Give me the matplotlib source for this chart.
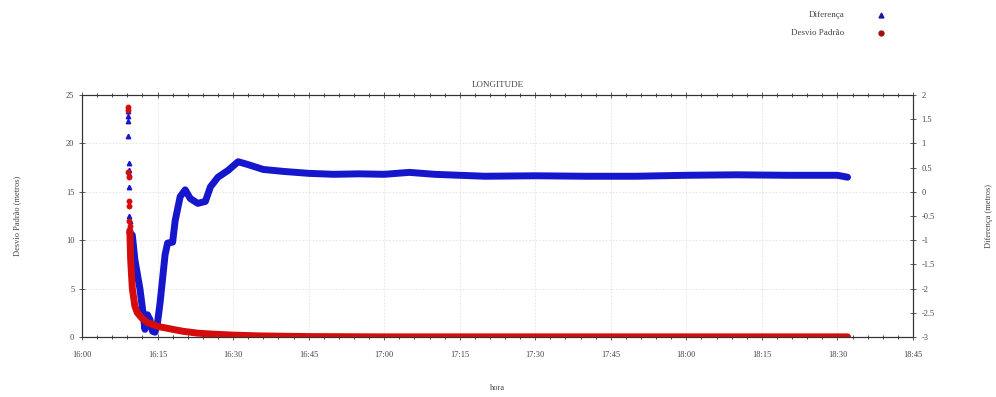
import pandas as pd
import matplotlib
matplotlib.use("Agg")
import matplotlib.pyplot as plt
import matplotlib.dates as mdates
from matplotlib.ticker import MultipleLocator

plt.rcParams['font.family'] = ['Liberation Serif', 'DejaVu Serif']

DAY = "2015-01-01 "

# Diferenca (metros) - right axis
dif_times = ["16:09:30", "16:10:00", "16:10:30", "16:11:00", "16:11:30", "16:12:00",
             "16:12:30", "16:13:00", "16:13:30", "16:14:00", "16:14:30", "16:15:00",
             "16:15:30", "16:16:00", "16:16:30", "16:17:00", "16:18:00", "16:18:30",
             "16:19:30", "16:20:30", "16:21:30", "16:23:00", "16:24:30", "16:25:30",
             "16:27:00", "16:29:00", "16:31:00", "16:33:00", "16:36:00", "16:40:00",
             "16:45:00", "16:50:00", "16:55:00", "17:00:00", "17:05:00", "17:10:00",
             "17:15:00", "17:20:00", "17:30:00", "17:40:00", "17:50:00", "18:00:00",
             "18:10:00", "18:20:00", "18:30:00", "18:32:00"]
dif_vals = [-0.84, -0.9, -1.4, -1.7, -2.0, -2.4,
            -2.84, -2.54, -2.64, -2.88, -2.9, -2.7,
            -2.3, -1.8, -1.3, -1.06, -1.04, -0.6,
            -0.1, 0.04, -0.14, -0.24, -0.2, 0.1,
            0.3, 0.44, 0.62, 0.56, 0.46, 0.42,
            0.38, 0.36, 0.37, 0.36, 0.40, 0.36,
            0.34, 0.32, 0.33, 0.32, 0.32, 0.34,
            0.35, 0.34, 0.34, 0.30]

dif_spike_times = ["16:09:05", "16:09:08", "16:09:10", "16:09:12", "16:09:15",
                   "16:09:18", "16:09:20", "16:09:22", "16:09:25", "16:09:28"]
dif_spike_vals = [1.66, 1.56, 1.46, 1.16, 0.6, 0.44, 0.36, 0.1, -0.5, -0.6]

# Desvio Padrao (metros) - left axis
dp_times = ["16:09:30", "16:09:40", "16:10:00", "16:10:30", "16:11:00", "16:12:00",
            "16:13:00", "16:14:00", "16:15:00", "16:17:00", "16:20:00", "16:23:00",
            "16:26:00", "16:30:00", "16:35:00", "16:45:00", "17:00:00", "17:30:00",
            "18:00:00", "18:32:00"]
dp_vals = [11, 8, 5, 3.2, 2.5, 1.9,
           1.5, 1.3, 1.1, 0.9, 0.6, 0.4,
           0.3, 0.2, 0.12, 0.05, 0.02, 0.02,
           0.02, 0.02]

dp_spike_times = ["16:09:05", "16:09:08", "16:09:12", "16:09:15", "16:09:18",
                  "16:09:21", "16:09:24", "16:09:27"]
dp_spike_vals = [23.8, 23.4, 17.0, 16.5, 14.0, 13.5, 12.0, 11.5]


def to_dt(ts):
    return pd.to_datetime([DAY + t for t in ts])


blue = '#1616cc'
red = '#d40c0c'

fig = plt.figure(figsize=(9.96, 3.97), dpi=100)
ax = fig.add_axes([0.0823, 0.151, 0.8344, 0.61])
ax2 = ax.twinx()

ax.set_xlim(pd.Timestamp(DAY + "16:00"), pd.Timestamp(DAY + "18:45"))
ax.set_ylim(0, 25)
ax2.set_ylim(-3, 2)

# both series live on the top layer so the grid (on ax) stays underneath;
# red uses the left-axis scale and sits above blue
ax2.plot(to_dt(dif_times), dif_vals, color=blue, lw=5, solid_capstyle='round', zorder=2)
ax2.plot(to_dt(dif_spike_times), dif_spike_vals, '^', color=blue, ms=3.2, zorder=2)
ax2.plot(to_dt(dp_times), dp_vals, color=red, lw=5, solid_capstyle='round', zorder=3,
         transform=ax.transData)
ax2.plot(to_dt(dp_spike_times), dp_spike_vals, 'o', color=red, ms=3.2, zorder=3,
         transform=ax.transData)
ax2.set_ylim(-3, 2)

ax.xaxis.set_major_locator(mdates.MinuteLocator(byminute=[0, 15, 30, 45]))
ax.xaxis.set_minor_locator(mdates.MinuteLocator(interval=3))
ax.xaxis.set_major_formatter(mdates.DateFormatter('%H:%M'))
ax.yaxis.set_major_locator(MultipleLocator(5))
ax2.yaxis.set_major_locator(MultipleLocator(0.5))
ax2.yaxis.set_major_formatter(plt.FuncFormatter(lambda v, p: ('%g' % v)))

ax.grid(True, color='#e2e2e2', lw=0.6, ls=(0, (2, 2)))
for a in (ax, ax2):
    a.tick_params(labelsize=6, colors='#444444', length=4, width=0.6, direction='inout')
    a.tick_params(which='minor', length=2.5, width=0.5, direction='inout')
    for s in a.spines.values():
        s.set_linewidth(0.8)
        s.set_color('#333333')
ax.tick_params(axis='x', top=True, which='both', pad=8)
ax2.tick_params(axis='y', pad=4)

ax.set_title('LONGITUDE', fontsize=6.5, color='#444444', pad=6)
ax.set_xlabel('hora', fontsize=6, color='#444444', labelpad=18)
ax.set_ylabel('Desvio Padrão (metros)', fontsize=6, color='#444444', labelpad=32)
ax2.set_ylabel('Diferença (metros)', fontsize=6, color='#444444', labelpad=36)

# legend outside, top right
fig.text(0.848, 0.962, 'Diferença', ha='right', va='center', fontsize=6.5, color='#444444')
fig.text(0.848, 0.917, 'Desvio Padrão', ha='right', va='center', fontsize=6.5, color='#444444')
fig.lines.append(plt.Line2D([0.885], [0.962], marker='^', color='#1a1a9a', ms=3.5,
                            transform=fig.transFigure, figure=fig))
fig.lines.append(plt.Line2D([0.885], [0.917], marker='o', color='#a01010', ms=3.5,
                            transform=fig.transFigure, figure=fig))

fig.savefig('out.png', dpi=100)
